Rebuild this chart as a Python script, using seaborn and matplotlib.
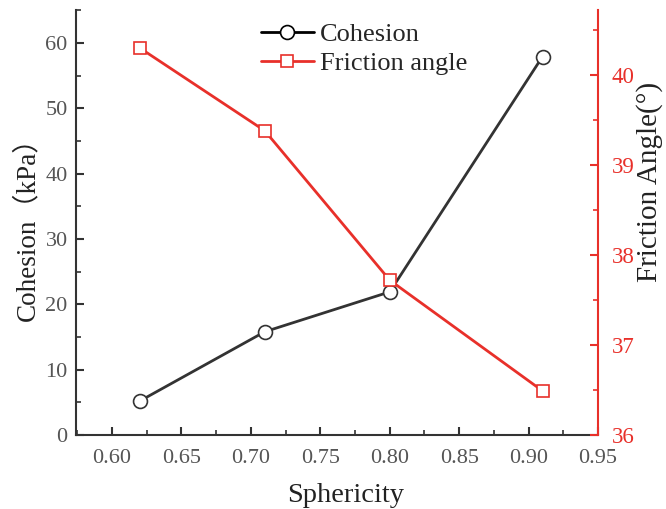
import matplotlib
matplotlib.use("Agg")
import matplotlib.pyplot as plt
import seaborn as sns
import pandas as pd
from matplotlib.ticker import MultipleLocator, FormatStrFormatter
from matplotlib.lines import Line2D

sphericity = [0.62, 0.71, 0.80, 0.91]
cohesion = [5.2, 15.8, 21.9, 57.9]
friction = [40.30, 39.38, 37.72, 36.49]

sns.set_theme(style="white")
plt.rcParams['font.family'] = ['Liberation Serif', 'Noto Sans CJK SC', 'DejaVu Sans']

dark = "#333333"
gray = "#555555"
red = "#e8302a"

df = pd.DataFrame({"Sphericity": sphericity, "Cohesion": cohesion, "Friction": friction})

fig, ax = plt.subplots(figsize=(6.66, 5.09), dpi=100)
fig.subplots_adjust(left=0.114, right=0.898, top=0.98, bottom=0.1454)
ax2 = ax.twinx()

sns.lineplot(data=df, x="Sphericity", y="Cohesion", ax=ax, color=dark, lw=2,
             marker="o", markersize=10, markerfacecolor="white",
             markeredgecolor=dark, markeredgewidth=1.2)
sns.lineplot(data=df, x="Sphericity", y="Friction", ax=ax2, color=red, lw=2,
             marker="s", markersize=8.5, markerfacecolor="white",
             markeredgecolor=red, markeredgewidth=1.2)

ax.set_xlim(0.574, 0.95)
ax.set_ylim(0, 65)
ax2.set_ylim(36, 40.72)

ax.xaxis.set_major_locator(MultipleLocator(0.05))
ax.xaxis.set_minor_locator(MultipleLocator(0.025))
ax.xaxis.set_major_formatter(FormatStrFormatter('%.2f'))
ax.yaxis.set_major_locator(MultipleLocator(10))
ax.yaxis.set_minor_locator(MultipleLocator(5))
ax2.yaxis.set_major_locator(MultipleLocator(1))
ax2.yaxis.set_minor_locator(MultipleLocator(0.5))

for a in (ax, ax2):
    a.spines['top'].set_visible(False)
ax.spines['right'].set_visible(False)
ax.spines['left'].set_color(dark)
ax.spines['bottom'].set_color(dark)
ax.spines['left'].set_linewidth(1.5)
ax.spines['bottom'].set_linewidth(1.5)
ax2.spines['left'].set_visible(False)
ax2.spines['bottom'].set_visible(False)
ax2.spines['right'].set_color(red)
ax2.spines['right'].set_linewidth(1.5)

ax.tick_params(axis='x', which='major', direction='in', length=6, width=1.5,
               color=dark, labelsize=16, labelcolor=gray, bottom=True, pad=10)
ax.tick_params(axis='y', which='major', direction='in', length=6, width=1.5,
               color=dark, labelsize=16, labelcolor=gray, left=True, pad=6)
ax.tick_params(axis='both', which='minor', direction='in', length=3.5, width=1.2,
               color=dark, left=True, bottom=True)
ax2.tick_params(axis='y', which='major', direction='in', length=6, width=1.5,
                color=red, labelsize=16.5, labelcolor=red, right=True, pad=10)
ax2.tick_params(axis='y', which='minor', direction='in', length=3.5, width=1.2,
                color=red, right=True)

ax.set_xlabel("Sphericity", fontsize=20.5, color="#222222")
ax.xaxis.set_label_coords(0.517, -0.114)
ax.set_ylabel("Cohesion（kPa）", fontsize=19.5, color="#222222", labelpad=4)
ax2.set_ylabel("Friction Angle(°)", fontsize=21, color="#222222")
ax2.yaxis.set_label_coords(1.072, 0.595)
ax.grid(False)
ax2.grid(False)

handles = [
    Line2D([], [], color="black", lw=2, marker="o", markersize=10,
           markerfacecolor="white", markeredgecolor="black", markeredgewidth=1.2),
    Line2D([], [], color=red, lw=2, marker="s", markersize=8.5,
           markerfacecolor="white", markeredgecolor=red, markeredgewidth=1.2),
]
ax.legend(handles, ["Cohesion", "Friction angle"], loc="upper center",
          bbox_to_anchor=(0.552, 1.026), frameon=False, fontsize=19,
          handlelength=2.0, handletextpad=0.25, labelspacing=0.2)

fig.savefig("out.png", dpi=100)
